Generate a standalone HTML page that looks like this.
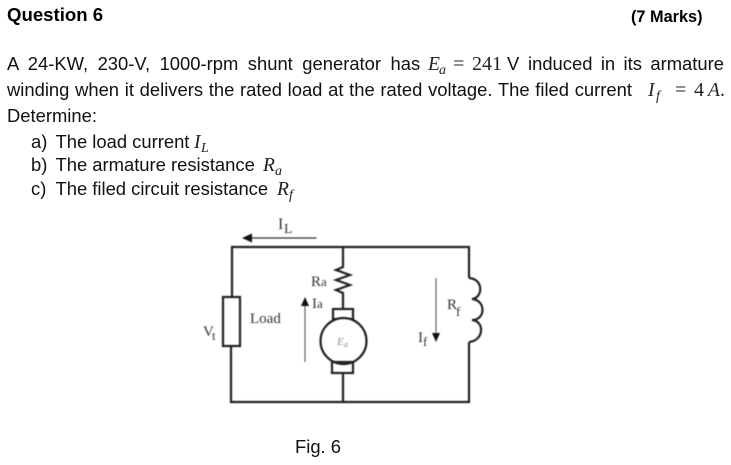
<!DOCTYPE html>
<html><head><meta charset="utf-8"><style>
html,body{margin:0;padding:0;background:#fff;width:731px;height:465px;overflow:hidden}
svg{display:block}
.a{font:18.4px "Liberation Sans",sans-serif;fill:#111}
.b{font:bold 18.6px "Liberation Sans",sans-serif;fill:#000}
.m{font:italic 19.500px "Liberation Serif",serif;fill:#222}
.s{font:italic 14px "Liberation Serif",serif;fill:#222}
.n{font:20px "Liberation Serif",serif;fill:#222}
.c{font:15px "Liberation Serif",serif;fill:#333}
.cs{font:13px "Liberation Serif",serif;fill:#333}
.d{filter:blur(0.4px)}
</style></head><body>
<svg width="731" height="465" viewBox="0 0 731 465" xmlns="http://www.w3.org/2000/svg">
<text class="b" x="7" y="21">Question 6</text>
<text class="b" x="631" y="22" style="font-size:16.300px">(7 Marks)</text>

<text class="a" x="7" y="70" style="word-spacing:4.400px">A 24-KW, 230-V, 1000-rpm shunt generator has</text>
<text class="m" x="428" y="70">E</text><text class="s" x="439" y="74">a</text>
<text class="n" x="453" y="70">=</text><text class="n" x="472" y="70">241</text>
<text class="a" x="507" y="70">V</text>
<text class="a" x="528" y="70" style="word-spacing:3.300px">induced in its armature</text>

<text class="a" x="7" y="96" style="word-spacing:0.600px">winding when it delivers the rated load at the rated voltage. The filed current</text>
<text class="m" x="648" y="96">I</text><text class="s" x="656" y="100">f</text>
<text class="n" x="675" y="96">=</text><text class="n" x="694" y="96">4</text><text class="m" x="708" y="96">A</text><text class="n" x="720" y="96">.</text>

<text class="a" x="7" y="122">Determine:</text>
<text class="a" x="31" y="148">a)</text><text class="a" x="55.500" y="148">The load current</text><text class="m" x="194" y="148">I</text><text class="s" x="201" y="152">L</text>
<text class="a" x="31" y="171">b)</text><text class="a" x="55.500" y="171">The armature resistance</text><text class="m" x="263" y="171">R</text><text class="s" x="275" y="175">a</text>
<text class="a" x="31" y="195">c)</text><text class="a" x="55.500" y="195">The filed circuit resistance</text><text class="m" x="277" y="195">R</text><text class="s" x="289" y="199">f</text>

<g class="d">
<g fill="none" stroke="#222" stroke-width="2.200">
<path d="M232 297V247H469V278M469 342V402H231V346"/>
<rect x="223" y="297" width="17" height="49"/>
<path d="M343 247V267L336 270 350 275 336 280 350 285 336 290 343 293V309"/>
<rect x="333" y="309" width="20" height="10"/>
<circle cx="343.500" cy="341" r="23" fill="#fff"/>
<rect x="332" y="362" width="21" height="11"/>
<path d="M343 373V402"/>
<path d="M469 278C484 279 483 298 472 299C486 300 486 320 472 320C485 321 484 341 469 342"/>
</g>
<path d="M316.500 238H250" stroke="#333" stroke-width="1.200"/><path d="M242 238L252 233.500V242.500Z" fill="#111"/>
<path d="M305 362V304" stroke="#666" stroke-width="1.200"/><path d="M305 297L301 306H309Z" fill="#111"/>
<path d="M436 278V335" stroke="#666" stroke-width="1.200"/><path d="M436 342L432 333H440Z" fill="#111"/>

<text class="c" x="278" y="229" style="font-size:16px">I</text><text class="cs" x="284" y="233" style="font-size:14px">L</text>
<text class="c" x="311" y="286">R</text><text class="cs" x="321" y="286">a</text>
<text class="c" x="312" y="308">I</text><text class="cs" x="317" y="308">a</text>
<text class="c" x="250" y="323">Load</text>
<text class="c" x="203" y="336">V</text><text class="cs" x="212" y="340">t</text>
<text class="c" x="447" y="309">R</text><text class="cs" x="456" y="316">f</text>
<text class="c" x="418" y="342">I</text><text class="cs" x="423" y="346">f</text>
<text style="font:italic 11px 'Liberation Serif',serif;fill:#888" x="337" y="345">E</text><text style="font:italic 8px 'Liberation Serif',serif;fill:#888" x="344" y="347">a</text>
</g>

<text class="a" x="295" y="453">Fig. 6</text>
</svg>
</body></html>
